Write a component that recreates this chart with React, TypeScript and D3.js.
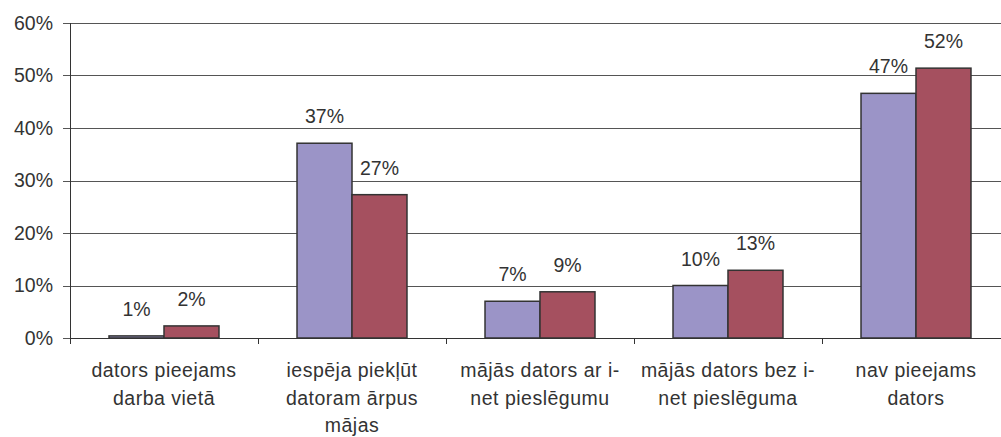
import React from "react";
import * as d3 from "d3";

const categories: string[][] = [
  ["dators pieejams", "darba vietā"],
  ["iespēja piekļūt", "datoram ārpus", "mājas"],
  ["mājās dators ar i-", "net pieslēgumu"],
  ["mājās dators bez i-", "net pieslēguma"],
  ["nav pieejams", "dators"],
];
const seriesA: number[] = [0.4, 37.1, 7.0, 10.0, 46.6];
const seriesB: number[] = [2.3, 27.3, 8.8, 12.9, 51.4];
const labelsA: string[] = ["1%", "37%", "7%", "10%", "47%"];
const labelsB: string[] = ["2%", "27%", "9%", "13%", "52%"];
const yTicks: number[] = [0, 10, 20, 30, 40, 50, 60];

const colors = ["#9b94c7", "#a5505f"];

export default function App() {
  const W = 1001, H = 437;
  const left = 70, top = 23, bottom = 338, right = 1010;
  const font = "'Liberation Sans', Arial, sans-serif";
  const fs = 19.5;
  const y = d3.scaleLinear().domain([0, 60]).range([bottom, top]);
  const idx = categories.map((_, i) => String(i));
  const x = d3.scaleBand().domain(idx).range([left, right]).paddingInner(0.415).paddingOuter(0.2075);
  const xs = d3.scaleBand().domain(["a", "b"]).range([0, x.bandwidth()]);
  const step = x.step();
  const series = [
    { key: "a", vals: seriesA, labels: labelsA, color: colors[0] },
    { key: "b", vals: seriesB, labels: labelsB, color: colors[1] },
  ];
  return (
    <svg width={W} height={H} style={{ position: "absolute", left: 0, top: 0, background: "#fff" }}>
      <rect x={0} y={0} width={W} height={H} fill="#fff" />
      {yTicks.map((t) => (
        <g key={t}>
          <line x1={left - 7} x2={right} y1={Math.round(y(t)) + 0.5} y2={Math.round(y(t)) + 0.5} stroke="#555" strokeWidth={1} />
          <text x={53} y={y(t)} dy="0.35em" textAnchor="end" fontFamily={font} fontSize={fs} fill="#333">
            {t}%
          </text>
        </g>
      ))}
      <line x1={left + 0.5} x2={left + 0.5} y1={top} y2={bottom + 6} stroke="#333" />
      {idx.slice(1).map((d) => {
        const xx = Math.round(x(d)! - (step - x.bandwidth()) / 2) + 0.5;
        return <line key={d} x1={xx} x2={xx} y1={bottom} y2={bottom + 6} stroke="#333" />;
      })}
      {series.map((s) =>
        s.vals.map((v, i) => {
          const bx = x(String(i))! + xs(s.key)!;
          const by = y(v);
          return (
            <g key={s.key + i}>
              <rect x={bx} y={by} width={xs.bandwidth()} height={bottom - by} fill={s.color} stroke="#333" strokeWidth={1.5} />
              <text x={bx + xs.bandwidth() / 2} y={by - 20} textAnchor="middle" fontFamily={font} fontSize={fs} fill="#333">
                {s.labels[i]}
              </text>
            </g>
          );
        })
      )}
      <line x1={left} x2={right} y1={bottom + 0.5} y2={bottom + 0.5} stroke="#333" />
      {categories.map((lines, i) => (
        <text key={i} x={x(String(i))! + x.bandwidth() / 2} y={377} textAnchor="middle" fontFamily={font} fontSize={fs} letterSpacing={0.5} fill="#333">
          {lines.map((l, j) => (
            <tspan key={j} x={x(String(i))! + x.bandwidth() / 2} dy={j === 0 ? 0 : 27.5}>
              {l}
            </tspan>
          ))}
        </text>
      ))}
    </svg>
  );
}
